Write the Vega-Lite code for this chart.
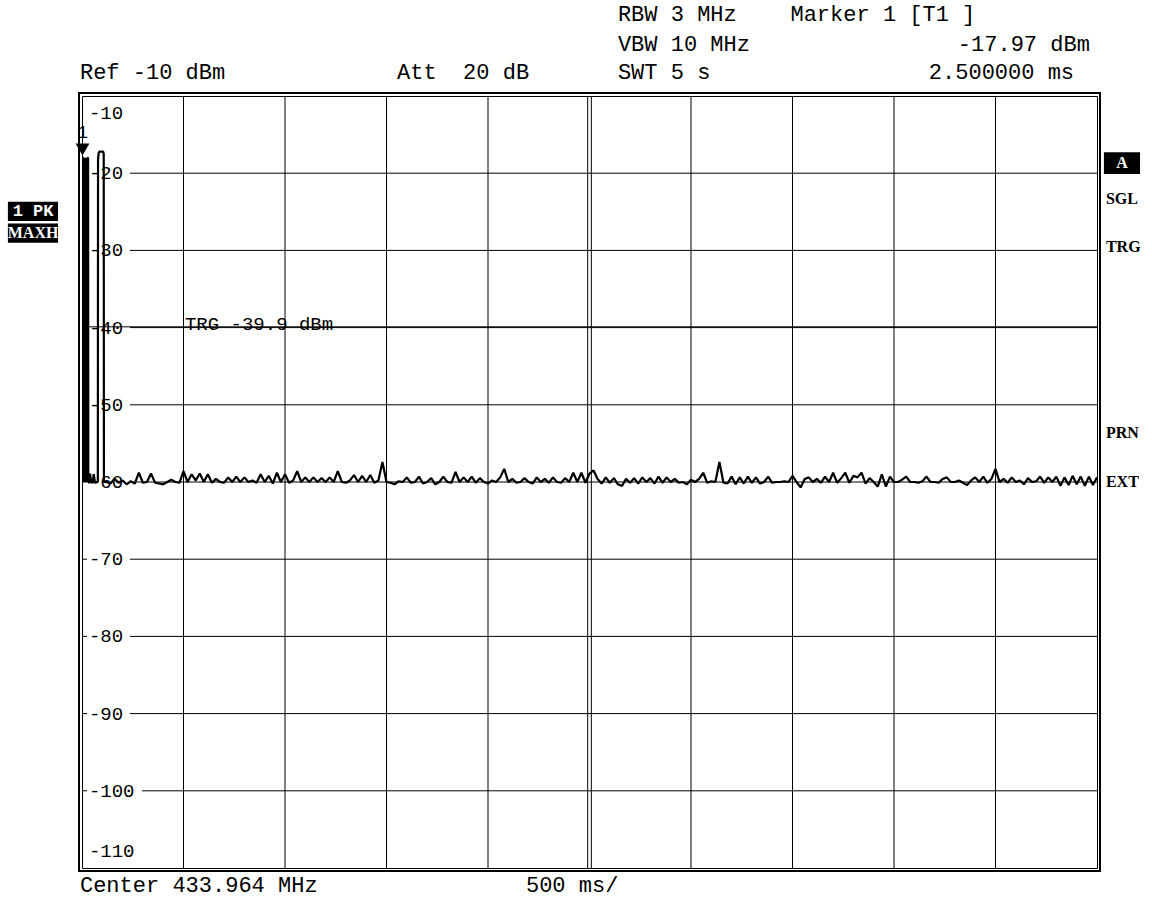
{
  "$schema": "https://vega.github.io/schema/vega-lite/v6.json",
  "width": 1015,
  "height": 772,
  "autosize": {"type": "none"},
  "padding": {"left": 82, "top": 96, "right": 55, "bottom": 32},
  "background": "white",
  "config": {
    "view": {"stroke": "black", "strokeWidth": 1},
    "axis": {"disable": true},
    "text": {"font": "Liberation Mono", "fontSize": 21, "color": "black"}
  },
  "datasets": {
    "trace": [
      {"t":0,"v":-17.97},{"t":2.5,"v":-17.97},{"t":5,"v":-18},{"t":6,"v":-60},{"t":8,"v":-18},{"t":10,"v":-60},{"t":12,"v":-18},{"t":14,"v":-60},{"t":16,"v":-18},{"t":18,"v":-60},{"t":20,"v":-18},{"t":22,"v":-60},{"t":24,"v":-18},{"t":26,"v":-60},{"t":28,"v":-18},{"t":30,"v":-18},{"t":31,"v":-60},
      {"t":36,"v":-60.1},{"t":40,"v":-58.9},{"t":45,"v":-60.1},{"t":52,"v":-60},{"t":58,"v":-59},{"t":64,"v":-60.1},{"t":72,"v":-60},{"t":78,"v":-60},
      {"t":79,"v":-18.2},{"t":82,"v":-17.4},{"t":86,"v":-17.2},{"t":104,"v":-17.2},{"t":107,"v":-17.5},{"t":108,"v":-60},
      {"t":120,"v":-60},{"t":140,"v":-60.2},{"t":160,"v":-59.6},{"t":180,"v":-60.1},{"t":200,"v":-59.8},{"t":220,"v":-60.3},{"t":240,"v":-59.9},{"t":260,"v":-60.2},{"t":280,"v":-58.8},{"t":300,"v":-60.1},
      {"t":320,"v":-60},{"t":340,"v":-58.9},{"t":360,"v":-60.1},{"t":380,"v":-60.2},{"t":400,"v":-60.3},{"t":420,"v":-60},{"t":440,"v":-59.7},{"t":460,"v":-60},{"t":480,"v":-60.1},{"t":500,"v":-58.6},
      {"t":520,"v":-60},{"t":540,"v":-59},{"t":560,"v":-59.8},{"t":580,"v":-58.9},{"t":600,"v":-60},{"t":620,"v":-59},{"t":640,"v":-60.1},{"t":660,"v":-59.6},{"t":680,"v":-60},{"t":700,"v":-60.1},
      {"t":720,"v":-59.4},{"t":740,"v":-60},{"t":760,"v":-59.3},{"t":780,"v":-60},{"t":800,"v":-59.4},{"t":820,"v":-60},{"t":840,"v":-59.8},{"t":860,"v":-60.1},{"t":880,"v":-59},{"t":900,"v":-60},
      {"t":920,"v":-59.2},{"t":940,"v":-60.2},{"t":960,"v":-58.8},{"t":980,"v":-60},{"t":1000,"v":-59},{"t":1020,"v":-60.1},{"t":1040,"v":-59.8},{"t":1060,"v":-58.6},{"t":1080,"v":-60},{"t":1100,"v":-59.4},
      {"t":1120,"v":-60},{"t":1140,"v":-59.4},{"t":1160,"v":-60},{"t":1180,"v":-59.5},{"t":1200,"v":-60},{"t":1220,"v":-59.4},{"t":1240,"v":-60},{"t":1260,"v":-58.6},{"t":1280,"v":-60},{"t":1300,"v":-60.1},
      {"t":1320,"v":-59.8},{"t":1340,"v":-59.1},{"t":1360,"v":-60},{"t":1380,"v":-59.2},{"t":1400,"v":-60},{"t":1420,"v":-59.1},{"t":1440,"v":-60.1},{"t":1460,"v":-59.8},{"t":1480,"v":-57.4},{"t":1500,"v":-60},
      {"t":1520,"v":-60.1},{"t":1540,"v":-60.3},{"t":1560,"v":-59.9},{"t":1580,"v":-60},{"t":1600,"v":-59.4},{"t":1620,"v":-60.1},{"t":1640,"v":-60},{"t":1660,"v":-59.3},{"t":1680,"v":-60.2},{"t":1700,"v":-60},
      {"t":1720,"v":-59.5},{"t":1740,"v":-60.3},{"t":1760,"v":-60},{"t":1780,"v":-59.3},{"t":1800,"v":-60},{"t":1820,"v":-60.1},{"t":1840,"v":-58.7},{"t":1860,"v":-60},{"t":1880,"v":-59.4},{"t":1900,"v":-60},
      {"t":1920,"v":-59.3},{"t":1940,"v":-60.1},{"t":1960,"v":-59.5},{"t":1980,"v":-60},{"t":2000,"v":-60.2},{"t":2020,"v":-59.8},{"t":2040,"v":-60},{"t":2060,"v":-59.4},{"t":2080,"v":-58.3},{"t":2100,"v":-60},
      {"t":2120,"v":-59.6},{"t":2140,"v":-60.1},{"t":2160,"v":-60},{"t":2180,"v":-59.5},{"t":2200,"v":-60},{"t":2220,"v":-60.2},{"t":2240,"v":-59.4},{"t":2260,"v":-60},{"t":2280,"v":-59.6},{"t":2300,"v":-60.1},
      {"t":2320,"v":-59.4},{"t":2340,"v":-60},{"t":2360,"v":-60.1},{"t":2380,"v":-59.5},{"t":2400,"v":-60},{"t":2420,"v":-58.8},{"t":2440,"v":-60},{"t":2460,"v":-58.8},{"t":2480,"v":-60.1},{"t":2500,"v":-58.9},
      {"t":2520,"v":-58.5},{"t":2540,"v":-59.6},{"t":2560,"v":-60.2},{"t":2580,"v":-59.4},{"t":2600,"v":-60.1},{"t":2620,"v":-59.5},{"t":2640,"v":-60.3},{"t":2660,"v":-60.5},{"t":2680,"v":-59.6},{"t":2700,"v":-60.1},
      {"t":2720,"v":-59.5},{"t":2740,"v":-60.2},{"t":2760,"v":-59.4},{"t":2780,"v":-60},{"t":2800,"v":-59.5},{"t":2820,"v":-60.2},{"t":2840,"v":-59.3},{"t":2860,"v":-60.1},{"t":2880,"v":-59.4},{"t":2900,"v":-60},
      {"t":2920,"v":-59.6},{"t":2940,"v":-60.1},{"t":2960,"v":-60},{"t":2980,"v":-60.3},{"t":3000,"v":-59.7},{"t":3020,"v":-60},{"t":3040,"v":-59.6},{"t":3060,"v":-58.8},{"t":3080,"v":-60.1},{"t":3100,"v":-59.9},
      {"t":3120,"v":-60},{"t":3140,"v":-57.4},{"t":3160,"v":-60.1},{"t":3180,"v":-60.2},{"t":3200,"v":-59.3},{"t":3220,"v":-60.3},{"t":3240,"v":-59.4},{"t":3260,"v":-60.2},{"t":3280,"v":-59.3},{"t":3300,"v":-60.1},
      {"t":3320,"v":-59.4},{"t":3340,"v":-60.2},{"t":3360,"v":-60},{"t":3380,"v":-59.3},{"t":3400,"v":-60.1},{"t":3420,"v":-60},{"t":3440,"v":-60},{"t":3460,"v":-59.9},{"t":3480,"v":-60},{"t":3500,"v":-59.2},
      {"t":3520,"v":-60},{"t":3540,"v":-60.7},{"t":3560,"v":-59.6},{"t":3580,"v":-59.4},{"t":3600,"v":-60},{"t":3620,"v":-59.6},{"t":3640,"v":-60.1},{"t":3660,"v":-59.3},{"t":3680,"v":-60},{"t":3700,"v":-58.8},
      {"t":3720,"v":-60.1},{"t":3740,"v":-59.5},{"t":3760,"v":-58.8},{"t":3780,"v":-60.1},{"t":3800,"v":-59.2},{"t":3820,"v":-59.4},{"t":3840,"v":-58.8},{"t":3860,"v":-60.2},{"t":3880,"v":-59.5},{"t":3900,"v":-60},
      {"t":3920,"v":-60.6},{"t":3940,"v":-59},{"t":3960,"v":-60.6},{"t":3980,"v":-59.3},{"t":4000,"v":-60},{"t":4020,"v":-60},{"t":4040,"v":-59.7},{"t":4060,"v":-59.3},{"t":4080,"v":-60},{"t":4100,"v":-60},
      {"t":4120,"v":-60.1},{"t":4140,"v":-59.9},{"t":4160,"v":-59.3},{"t":4180,"v":-60},{"t":4200,"v":-60},{"t":4220,"v":-60.1},{"t":4240,"v":-59.6},{"t":4260,"v":-59.4},{"t":4280,"v":-60},{"t":4300,"v":-60},
      {"t":4320,"v":-59.8},{"t":4340,"v":-60.1},{"t":4360,"v":-60.4},{"t":4380,"v":-59.8},{"t":4400,"v":-59.4},{"t":4420,"v":-60},{"t":4440,"v":-59.3},{"t":4460,"v":-60.1},{"t":4480,"v":-59.6},{"t":4500,"v":-58.3},
      {"t":4520,"v":-60},{"t":4540,"v":-59.6},{"t":4560,"v":-60.1},{"t":4580,"v":-59.4},{"t":4600,"v":-60},{"t":4620,"v":-59.8},{"t":4640,"v":-60.3},{"t":4660,"v":-59.5},{"t":4680,"v":-60},{"t":4700,"v":-59.9},
      {"t":4720,"v":-59.3},{"t":4740,"v":-60.1},{"t":4760,"v":-59.4},{"t":4780,"v":-60},{"t":4800,"v":-59.3},{"t":4820,"v":-60.5},{"t":4840,"v":-59.4},{"t":4860,"v":-60.4},{"t":4880,"v":-59.2},{"t":4900,"v":-60.3},
      {"t":4920,"v":-59.3},{"t":4940,"v":-60.5},{"t":4960,"v":-59.3},{"t":4980,"v":-60.4},{"t":5000,"v":-59.4}
    ],
    "hgrid": [{"v":-20},{"v":-30},{"v":-40},{"v":-50},{"v":-60},{"v":-70},{"v":-80},{"v":-90},{"v":-100}],
    "vgrid": [{"t":500},{"t":1000},{"t":1500},{"t":2000},{"t":2491},{"t":2509},{"t":3000},{"t":3500},{"t":4000},{"t":4500}],
    "ylabels": [{"v":-10,"label":"-10"},{"v":-20,"label":"-20"},{"v":-30,"label":"-30"},{"v":-40,"label":"-40"},{"v":-50,"label":"-50"},{"v":-60,"label":"-60"},{"v":-70,"label":"-70"},{"v":-80,"label":"-80"},{"v":-90,"label":"-90"},{"v":-100,"label":"-100"},{"v":-110,"label":"-110"}]
  },
  "layer": [
    {
      "data": {"name": "vgrid"},
      "mark": {"type": "rule", "color": "black", "strokeWidth": 1},
      "encoding": {
        "x": {"field": "t", "type": "quantitative", "scale": {"domain": [0, 5000], "nice": false, "zero": false}},
        "y": {"datum": -10, "type": "quantitative", "scale": {"domain": [-110, -10], "nice": false, "zero": false}},
        "y2": {"datum": -110}
      }
    },
    {
      "data": {"name": "hgrid"},
      "mark": {"type": "rule", "color": "black", "strokeWidth": 1},
      "encoding": {
        "x": {"datum": 0, "type": "quantitative", "scale": {"domain": [0, 5000], "nice": false, "zero": false}},
        "x2": {"datum": 25},
        "y": {"field": "v", "type": "quantitative", "scale": {"domain": [-110, -10], "nice": false, "zero": false}}
      }
    },
    {
      "data": {"name": "hgrid"},
      "transform": [{"filter": "datum.v > -100"}],
      "mark": {"type": "rule", "color": "black", "strokeWidth": 1},
      "encoding": {
        "x": {"datum": 236, "type": "quantitative", "scale": {"domain": [0, 5000], "nice": false, "zero": false}},
        "x2": {"datum": 5000},
        "y": {"field": "v", "type": "quantitative", "scale": {"domain": [-110, -10], "nice": false, "zero": false}}
      }
    },
    {
      "data": {"name": "hgrid"},
      "transform": [{"filter": "datum.v <= -100"}],
      "mark": {"type": "rule", "color": "black", "strokeWidth": 1},
      "encoding": {
        "x": {"datum": 296, "type": "quantitative", "scale": {"domain": [0, 5000], "nice": false, "zero": false}},
        "x2": {"datum": 5000},
        "y": {"field": "v", "type": "quantitative", "scale": {"domain": [-110, -10], "nice": false, "zero": false}}
      }
    },
    {
      "data": {"values": [{"level": -39.9}]},
      "mark": {"type": "rule", "color": "black", "strokeWidth": 1},
      "encoding": {
        "x": {"datum": 0, "type": "quantitative", "scale": {"domain": [0, 5000], "nice": false, "zero": false}},
        "x2": {"datum": 5000},
        "y": {"field": "level", "type": "quantitative", "scale": {"domain": [-110, -10], "nice": false, "zero": false}}
      }
    },
    {
      "data": {"values": [{"level": -39.9, "label": "TRG -39.9 dBm"}]},
      "mark": {"type": "text", "align": "left", "baseline": "middle", "fontSize": 19, "dy": -3},
      "encoding": {
        "x": {"datum": 507, "type": "quantitative", "scale": {"domain": [0, 5000], "nice": false, "zero": false}},
        "y": {"field": "level", "type": "quantitative", "scale": {"domain": [-110, -10], "nice": false, "zero": false}},
        "text": {"field": "label"}
      }
    },
    {
      "data": {"name": "ylabels"},
      "transform": [{"filter": "datum.v < -10 && datum.v > -110"}],
      "mark": {"type": "text", "align": "left", "baseline": "middle", "fontSize": 19},
      "encoding": {
        "x": {"datum": 34, "type": "quantitative", "scale": {"domain": [0, 5000], "nice": false, "zero": false}},
        "y": {"field": "v", "type": "quantitative", "scale": {"domain": [-110, -10], "nice": false, "zero": false}},
        "text": {"field": "label"}
      }
    },
    {
      "data": {"name": "ylabels"},
      "transform": [{"filter": "datum.v == -10"}],
      "mark": {"type": "text", "align": "left", "baseline": "middle", "fontSize": 19, "yOffset": 17},
      "encoding": {
        "x": {"datum": 34, "type": "quantitative", "scale": {"domain": [0, 5000], "nice": false, "zero": false}},
        "y": {"field": "v", "type": "quantitative", "scale": {"domain": [-110, -10], "nice": false, "zero": false}},
        "text": {"field": "label"}
      }
    },
    {
      "data": {"name": "ylabels"},
      "transform": [{"filter": "datum.v == -110"}],
      "mark": {"type": "text", "align": "left", "baseline": "middle", "fontSize": 19, "yOffset": -17},
      "encoding": {
        "x": {"datum": 34, "type": "quantitative", "scale": {"domain": [0, 5000], "nice": false, "zero": false}},
        "y": {"field": "v", "type": "quantitative", "scale": {"domain": [-110, -10], "nice": false, "zero": false}},
        "text": {"field": "label"}
      }
    },
    {
      "data": {"name": "trace"},
      "mark": {"type": "line", "color": "black", "strokeWidth": 2.2, "strokeJoin": "bevel", "clip": true},
      "encoding": {
        "x": {"field": "t", "type": "quantitative", "scale": {"domain": [0, 5000], "nice": false, "zero": false}},
        "y": {"field": "v", "type": "quantitative", "scale": {"domain": [-110, -10], "nice": false, "zero": false}}
      }
    },
    {
      "data": {"values": [{"t": 2.5, "v": -17.97}]},
      "mark": {"type": "point", "shape": "triangle-down", "filled": true, "color": "black", "opacity": 1, "size": 190, "yOffset": -8},
      "encoding": {
        "x": {"field": "t", "type": "quantitative", "scale": {"domain": [0, 5000], "nice": false, "zero": false}},
        "y": {"field": "v", "type": "quantitative", "scale": {"domain": [-110, -10], "nice": false, "zero": false}}
      }
    },
    {
      "data": {"values": [{"t": 2.5, "v": -17.97, "label": "1"}]},
      "mark": {"type": "text", "align": "center", "baseline": "middle", "fontSize": 19, "dy": -26},
      "encoding": {
        "x": {"field": "t", "type": "quantitative", "scale": {"domain": [0, 5000], "nice": false, "zero": false}},
        "y": {"field": "v", "type": "quantitative", "scale": {"domain": [-110, -10], "nice": false, "zero": false}},
        "text": {"field": "label"}
      }
    },
    {
      "data": {"values": [{}]},
      "mark": {"type": "rect", "filled": false, "stroke": "black", "strokeWidth": 2, "xOffset": -3, "x2Offset": 3, "yOffset": -3, "y2Offset": 3, "clip": false},
      "encoding": {
        "x": {"datum": 0, "type": "quantitative", "scale": {"domain": [0, 5000], "nice": false, "zero": false}},
        "x2": {"datum": 5000},
        "y": {"datum": -10, "type": "quantitative", "scale": {"domain": [-110, -10], "nice": false, "zero": false}},
        "y2": {"datum": -110}
      }
    },
    {
      "data": {"values": [{"label": "RBW 3 MHz"}]},
      "mark": {"type": "text", "align": "left", "baseline": "middle", "fontSize": 22},
      "encoding": {
        "x": {"datum": 2640, "type": "quantitative", "scale": {"domain": [0, 5000], "nice": false, "zero": false}},
        "y": {"datum": 0.62, "type": "quantitative", "scale": {"domain": [-110, -10], "nice": false, "zero": false}},
        "text": {"field": "label"}
      }
    },
    {
      "data": {"values": [{"label": "Marker 1 [T1 ]"}]},
      "mark": {"type": "text", "align": "left", "baseline": "middle", "fontSize": 22},
      "encoding": {
        "x": {"datum": 3490, "type": "quantitative", "scale": {"domain": [0, 5000], "nice": false, "zero": false}},
        "y": {"datum": 0.62, "type": "quantitative", "scale": {"domain": [-110, -10], "nice": false, "zero": false}},
        "text": {"field": "label"}
      }
    },
    {
      "data": {"values": [{"label": "VBW 10 MHz"}]},
      "mark": {"type": "text", "align": "left", "baseline": "middle", "fontSize": 22},
      "encoding": {
        "x": {"datum": 2640, "type": "quantitative", "scale": {"domain": [0, 5000], "nice": false, "zero": false}},
        "y": {"datum": -3.26, "type": "quantitative", "scale": {"domain": [-110, -10], "nice": false, "zero": false}},
        "text": {"field": "label"}
      }
    },
    {
      "data": {"values": [{"label": "-17.97 dBm"}]},
      "mark": {"type": "text", "align": "right", "baseline": "middle", "fontSize": 22},
      "encoding": {
        "x": {"datum": 4965, "type": "quantitative", "scale": {"domain": [0, 5000], "nice": false, "zero": false}},
        "y": {"datum": -3.26, "type": "quantitative", "scale": {"domain": [-110, -10], "nice": false, "zero": false}},
        "text": {"field": "label"}
      }
    },
    {
      "data": {"values": [{"label": "SWT 5 s"}]},
      "mark": {"type": "text", "align": "left", "baseline": "middle", "fontSize": 22},
      "encoding": {
        "x": {"datum": 2640, "type": "quantitative", "scale": {"domain": [0, 5000], "nice": false, "zero": false}},
        "y": {"datum": -6.89, "type": "quantitative", "scale": {"domain": [-110, -10], "nice": false, "zero": false}},
        "text": {"field": "label"}
      }
    },
    {
      "data": {"values": [{"label": "2.500000 ms"}]},
      "mark": {"type": "text", "align": "right", "baseline": "middle", "fontSize": 22},
      "encoding": {
        "x": {"datum": 4887, "type": "quantitative", "scale": {"domain": [0, 5000], "nice": false, "zero": false}},
        "y": {"datum": -6.89, "type": "quantitative", "scale": {"domain": [-110, -10], "nice": false, "zero": false}},
        "text": {"field": "label"}
      }
    },
    {
      "data": {"values": [{"label": "Ref -10 dBm"}]},
      "mark": {"type": "text", "align": "left", "baseline": "middle", "fontSize": 22},
      "encoding": {
        "x": {"datum": -10, "type": "quantitative", "scale": {"domain": [0, 5000], "nice": false, "zero": false}},
        "y": {"datum": -6.89, "type": "quantitative", "scale": {"domain": [-110, -10], "nice": false, "zero": false}},
        "text": {"field": "label"}
      }
    },
    {
      "data": {"values": [{"label": "Att\u00a0\u00a020 dB"}]},
      "mark": {"type": "text", "align": "left", "baseline": "middle", "fontSize": 22},
      "encoding": {
        "x": {"datum": 1552, "type": "quantitative", "scale": {"domain": [0, 5000], "nice": false, "zero": false}},
        "y": {"datum": -6.89, "type": "quantitative", "scale": {"domain": [-110, -10], "nice": false, "zero": false}},
        "text": {"field": "label"}
      }
    },
    {
      "data": {"values": [{"label": "Center 433.964 MHz"}]},
      "mark": {"type": "text", "align": "left", "baseline": "middle", "fontSize": 22},
      "encoding": {
        "x": {"datum": -10, "type": "quantitative", "scale": {"domain": [0, 5000], "nice": false, "zero": false}},
        "y": {"datum": -112.2, "type": "quantitative", "scale": {"domain": [-110, -10], "nice": false, "zero": false}},
        "text": {"field": "label"}
      }
    },
    {
      "data": {"values": [{"label": "500 ms/"}]},
      "mark": {"type": "text", "align": "left", "baseline": "middle", "fontSize": 22},
      "encoding": {
        "x": {"datum": 2187, "type": "quantitative", "scale": {"domain": [0, 5000], "nice": false, "zero": false}},
        "y": {"datum": -112.2, "type": "quantitative", "scale": {"domain": [-110, -10], "nice": false, "zero": false}},
        "text": {"field": "label"}
      }
    },
    {
      "data": {"values": [{"box": "1 PK"}]},
      "mark": {"type": "rect", "color": "black", "clip": false},
      "encoding": {
        "x": {"datum": -365, "type": "quantitative", "scale": {"domain": [0, 5000], "nice": false, "zero": false}},
        "x2": {"datum": -118},
        "y": {"datum": -23.7, "type": "quantitative", "scale": {"domain": [-110, -10], "nice": false, "zero": false}},
        "y2": {"datum": -26.2}
      }
    },
    {
      "data": {"values": [{"box": "MAXH"}]},
      "mark": {"type": "rect", "color": "black", "clip": false},
      "encoding": {
        "x": {"datum": -365, "type": "quantitative", "scale": {"domain": [0, 5000], "nice": false, "zero": false}},
        "x2": {"datum": -118},
        "y": {"datum": -26.5, "type": "quantitative", "scale": {"domain": [-110, -10], "nice": false, "zero": false}},
        "y2": {"datum": -29.0}
      }
    },
    {
      "data": {"values": [{"box": "A"}]},
      "mark": {"type": "rect", "color": "black", "clip": false},
      "encoding": {
        "x": {"datum": 5034, "type": "quantitative", "scale": {"domain": [0, 5000], "nice": false, "zero": false}},
        "x2": {"datum": 5212},
        "y": {"datum": -17.3, "type": "quantitative", "scale": {"domain": [-110, -10], "nice": false, "zero": false}},
        "y2": {"datum": -20.1}
      }
    },
    {
      "data": {"values": [{"label": "1 PK"}]},
      "mark": {"type": "text", "align": "center", "baseline": "middle", "fontSize": 17, "fontWeight": "bold", "color": "white"},
      "encoding": {
        "x": {"datum": -241, "type": "quantitative", "scale": {"domain": [0, 5000], "nice": false, "zero": false}},
        "y": {"datum": -24.95, "type": "quantitative", "scale": {"domain": [-110, -10], "nice": false, "zero": false}},
        "text": {"field": "label"}
      }
    },
    {
      "data": {"values": [{"label": "MAXH"}]},
      "mark": {"type": "text", "align": "center", "baseline": "middle", "fontSize": 16, "fontWeight": "bold", "color": "white", "font": "Liberation Serif"},
      "encoding": {
        "x": {"datum": -241, "type": "quantitative", "scale": {"domain": [0, 5000], "nice": false, "zero": false}},
        "y": {"datum": -27.75, "type": "quantitative", "scale": {"domain": [-110, -10], "nice": false, "zero": false}},
        "text": {"field": "label"}
      }
    },
    {
      "data": {"values": [{"label": "A"}]},
      "mark": {"type": "text", "align": "center", "baseline": "middle", "fontSize": 16, "fontWeight": "bold", "color": "white", "font": "Liberation Serif"},
      "encoding": {
        "x": {"datum": 5123, "type": "quantitative", "scale": {"domain": [0, 5000], "nice": false, "zero": false}},
        "y": {"datum": -18.7, "type": "quantitative", "scale": {"domain": [-110, -10], "nice": false, "zero": false}},
        "text": {"field": "label"}
      }
    },
    {
      "data": {"values": [{"label": "SGL", "v": -23.3}, {"label": "TRG", "v": -29.6}, {"label": "PRN", "v": -53.65}, {"label": "EXT", "v": -60.0}]},
      "mark": {"type": "text", "align": "left", "baseline": "middle", "fontSize": 16, "fontWeight": "bold", "font": "Liberation Serif"},
      "encoding": {
        "x": {"datum": 5044, "type": "quantitative", "scale": {"domain": [0, 5000], "nice": false, "zero": false}},
        "y": {"field": "v", "type": "quantitative", "scale": {"domain": [-110, -10], "nice": false, "zero": false}},
        "text": {"field": "label"}
      }
    }
  ]
}
